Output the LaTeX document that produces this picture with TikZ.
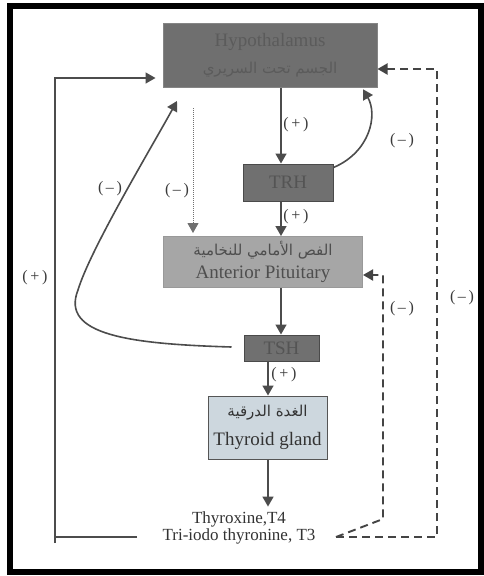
\documentclass[tikz,border=0pt]{standalone}
\usepackage{fontspec}
\setmainfont{Liberation Serif}
\newfontfamily\arabicfont[Script=Arabic]{DejaVu Sans}
\TeXXeTstate=1
\usetikzlibrary{arrows.meta,calc}
\definecolor{hypfill}{HTML}{6F6F6F}
\definecolor{hyptext}{HTML}{5B5B5B}
\definecolor{darkfill}{HTML}{707070}
\definecolor{darkedge}{HTML}{4A4A4A}
\definecolor{darktext}{HTML}{545454}
\definecolor{apfill}{HTML}{A6A6A6}
\definecolor{apedge}{HTML}{999999}
\definecolor{aptext}{HTML}{4E4E4E}
\definecolor{thyfill}{HTML}{CDD7DE}
\definecolor{thyedge}{HTML}{555555}
\definecolor{thytext}{HTML}{333333}
\definecolor{arrowc}{HTML}{4C4C4C}
\definecolor{labc}{HTML}{3A3A3A}
\tikzset{
  basebox/.style={rectangle, inner sep=0pt, align=center, line width=1pt},
  hypbox/.style={basebox, fill=hypfill, draw=hypfill!85!white, text=hyptext,
     minimum width=214pt, minimum height=64pt, font=\fontsize{19}{27}\selectfont},
  smallbox/.style={basebox, fill=darkfill, draw=darkedge, text=darktext,
     font=\fontsize{19}{22}\selectfont},
  apbox/.style={basebox, fill=apfill, draw=apedge, text=aptext,
     minimum width=199pt, minimum height=51pt, font=\fontsize{19}{23}\selectfont},
  thybox/.style={basebox, fill=thyfill, draw=thyedge, text=thytext,
     minimum width=119pt, minimum height=63pt, font=\fontsize{19}{29}\selectfont},
  hormtext/.style={inner sep=0pt, align=center, text=thytext, font=\fontsize{17}{17}\selectfont},
  tip/.style={-{Triangle[length=10pt,width=11pt]}},
  arr/.style={draw=arrowc, line width=1.6pt, tip},
  plainline/.style={draw=arrowc, line width=1.6pt},
  dotline/.style={draw=arrowc!80!white, line width=1pt, dash pattern=on 1pt off 1pt, tip},
  dashline/.style={draw=arrowc!90!black, line width=1.9pt, dash pattern=on 8pt off 5pt, tip},
  lab/.style={inner sep=0pt, text=labc, font=\fontsize{16}{18}\selectfont},
}
\newcommand{\arab}[1]{{\arabicfont\fontsize{15}{18}\selectfont\beginR #1\endR}}
\begin{document}
\begin{tikzpicture}[x=1pt,y=-1pt]
\useasboundingbox (0,0) rectangle (484,576);
\fill[white] (0,0) rectangle (484,576);
\draw[line width=6pt] (10,6) rectangle (481,571.5);

% boxes
\node[hypbox] (hyp) at (270,55) {Hypothalamus\\\arab{الجسم تحت السريري}};
\node[smallbox, minimum width=90pt, minimum height=37pt] (trh) at (288,182.5) {TRH};
\node[apbox] (ap) at (263,262) {\arab{الفص الأمامي للنخامية}\\Anterior Pituitary};
\node[smallbox, minimum width=75pt, minimum height=26pt] (tsh) at (281.5,348) {TSH};
\node[thybox] (thy) at (267.5,427.5) {\arab{الغدة الدرقية}\\Thyroid gland};
\node[hormtext] (horm) at (239,528) {Thyroxine,T4\\Tri-iodo thyronine, T3};

% helper coordinates
\coordinate (mx) at (281,0);
\coordinate (mx2) at (268,0);
\coordinate (dtop) at (193,108);
\coordinate (lc) at ($(tsh.west)+(-12,-1)$);
\coordinate (lct) at (177,101);
\coordinate (rcs) at ($(trh.north east)+(0,4)$);
\coordinate (rce) at (362,0);
\coordinate (lp) at (137,537);
\coordinate (lbot) at (55,543);
\coordinate (y78) at (0,78);
\coordinate (t3e) at (336,537);
\coordinate (y69) at (0,69);
\coordinate (y275) at (0,275);

% main chain
\draw[arr] (hyp.south -| mx) -- (trh.north -| mx);
\draw[arr] (trh.south -| mx) -- (ap.north -| mx);
\draw[arr] (ap.south -| mx) -- (tsh.north -| mx);
\draw[arr] (tsh.south -| mx2) -- (thy.north -| mx2);
\draw[arr, shorten >=5pt] (thy.south -| mx2) -- (horm.north -| mx2);

% feedback
\draw[arr, shorten >=2pt] (rcs) .. controls (370,152) and (378,115) .. (hyp.south -| rce);
\draw[dotline, shorten >=3pt] (dtop) -- (ap.north -| dtop);
\draw[arr] (lc) .. controls (130,344) and (60,335) .. (78,290)
               .. controls (90,250) and (150,150) .. (lct);
\draw[plainline] (lp) -- (55,537);
\draw[arr, shorten >=7pt] (lbot) -- (55,78) -- (hyp.west |- y78);
\draw[dashline] (t3e) -- (383,519) -- (383,275) -- (ap.east |- y275);
\draw[dashline] (t3e) -- (437,537) -- (437,69) -- (hyp.east |- y69);

% labels
\node[lab] (l1) at (296,125) {(\,+\,)};
\node[lab] (l2) at (296,217) {(\,+\,)};
\node[lab] (l3) at (284,375) {(\,+\,)};
\node[lab] (l4) at (402,141) {(\,--\,)};
\node[lab] (l5) at (177,191) {(\,--\,)};
\node[lab] (l6) at (110,189) {(\,--\,)};
\node[lab] (l7) at (35,278) {(\,+\,)};
\node[lab] (l8) at (402,309) {(\,--\,)};
\node[lab] (l9) at (462,298) {(\,--\,)};
\end{tikzpicture}
\end{document}
